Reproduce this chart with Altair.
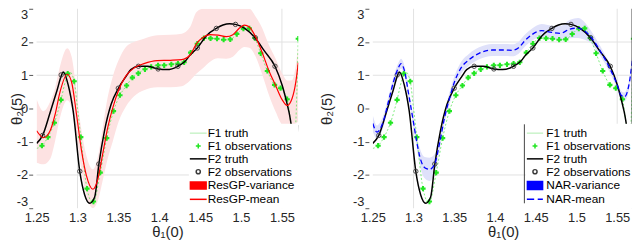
import altair as alt
import pandas as pd

FONT = "Liberation Sans"

# ---------------- data ----------------
f1_truth_x = [1.25, 1.2565, 1.2638, 1.2717, 1.2798, 1.2850, 1.2905, 1.2959, 1.3000, 1.3040, 1.3116,
              1.3190, 1.3278, 1.3357, 1.3440, 1.3519, 1.3600, 1.3671, 1.3744, 1.3825, 1.3901, 1.3985,
              1.4060, 1.4147, 1.4228, 1.4304, 1.4384, 1.4465, 1.4546, 1.4627, 1.4706, 1.4787, 1.4868,
              1.4948, 1.5029, 1.5101, 1.5169, 1.5241, 1.5322, 1.5410, 1.5483, 1.5564, 1.5652, 1.5700]
f1_truth_y = [-1.20, -1.12, -0.86, -0.43, 0.26, 0.80, 1.10, 0.82, 0.00, -0.86, -2.41,
              -2.85, -1.93, -0.89, -0.08, 0.40, 0.69, 0.93, 1.06, 1.18, 1.25, 1.30,
              1.30, 1.33, 1.35, 1.39, 1.68, 1.95, 2.12, 2.11, 2.10, 2.07, 2.08,
              2.24, 2.40, 2.41, 2.12, 1.66, 1.13, 0.71, 0.61, 0.28, -1.00, 2.10]

f1_obs_x = [1.2565, 1.2638, 1.2717, 1.2798, 1.2880, 1.2959, 1.3040, 1.3116, 1.3195, 1.3278, 1.3357,
            1.3440, 1.3519, 1.3600, 1.3671, 1.3744, 1.3825, 1.3901, 1.3985, 1.4060, 1.4147, 1.4228,
            1.4304, 1.4384, 1.4465, 1.4546, 1.4627, 1.4706, 1.4787, 1.4868, 1.4948, 1.5029, 1.5101,
            1.5169, 1.5241, 1.5322, 1.5410, 1.5483, 1.5564, 1.5652, 1.5700]
f1_obs_y = [-1.12, -0.86, -0.43, 0.26, 1.05, 0.82, -0.86, -2.41, -2.80, -1.93, -0.89,
            -0.08, 0.40, 0.69, 0.93, 1.06, 1.18, 1.25, 1.30, 1.30, 1.33, 1.35,
            1.39, 1.68, 1.95, 2.12, 2.11, 2.10, 2.07, 2.08, 2.24, 2.40, 2.41,
            2.12, 1.66, 1.13, 0.71, 0.61, 0.28, -1.00, 2.10]

f2_truth_x = [1.25, 1.2573, 1.2665, 1.2750, 1.2807, 1.2826, 1.2887, 1.2947, 1.3028, 1.3088, 1.3149,
              1.3210, 1.3261, 1.3330, 1.3410, 1.3500, 1.3592, 1.3652, 1.3744, 1.3853, 1.3986, 1.4094,
              1.4227, 1.4316, 1.4377, 1.4465, 1.4577, 1.4698, 1.4779, 1.4860, 1.4932, 1.5041, 1.5174,
              1.5283, 1.5415, 1.5504, 1.5584, 1.5664, 1.5700]
f2_truth_y = [-1.05, -0.81, -0.12, 0.55, 1.02, 1.10, 0.70, -0.08, -1.90, -2.60, -2.85,
              -2.66, -1.68, -0.67, 0.12, 0.61, 0.96, 1.17, 1.27, 1.27, 1.19, 1.17,
              1.27, 1.42, 1.61, 1.82, 2.19, 2.41, 2.51, 2.55, 2.53, 2.42, 2.12,
              1.74, 1.27, 0.69, -0.08, -1.00, -0.50]

f2_obs_x = [1.2573, 1.2800, 1.3028, 1.3261, 1.3499, 1.3744, 1.3986, 1.4227, 1.4465, 1.4698,
            1.4932, 1.5174, 1.5415, 1.5655]
f2_obs_y = [-0.81, 1.01, -1.89, -1.67, 0.61, 1.27, 1.19, 1.27, 1.82, 2.41, 2.53, 2.13, 1.27, -0.98]

resgp_x = [1.25, 1.2585, 1.2665, 1.2726, 1.2786, 1.2874, 1.2928, 1.2988, 1.3048, 1.3109, 1.3189,
           1.3249, 1.3310, 1.3370, 1.3430, 1.3502, 1.3592, 1.3692, 1.3813, 1.3974, 1.4135, 1.4275,
           1.4377, 1.4456, 1.4537, 1.4618, 1.4718, 1.4819, 1.4900, 1.4981, 1.5041, 1.5101, 1.5181,
           1.5262, 1.5342, 1.5423, 1.5504, 1.5564, 1.5624, 1.5670, 1.5700]
resgp_mean = [-0.67, -0.88, -0.67, -0.18, 0.50, 1.03, 0.79, -0.18, -1.25, -2.02, -2.43,
              -2.12, -1.34, -0.57, 0.01, 0.55, 0.98, 1.22, 1.35, 1.44, 1.45, 1.47,
              1.61, 1.95, 2.14, 2.22, 2.21, 2.16, 2.22, 2.42, 2.51, 2.45, 2.14,
              1.66, 1.13, 0.69, 0.26, 0.09, 0.30, 0.80, 1.38]
resgp_upper = [0.28, -0.08, 0.20, 0.62, 1.27, 1.81, 1.56, 0.50, -0.65, -1.42, -1.83,
               -1.45, -0.55, 0.35, 0.95, 1.45, 1.85, 2.00, 2.10, 2.20, 2.22, 2.25,
               2.45, 2.90, 3.10, 3.20, 3.10, 3.05, 3.10, 3.20, 3.20, 3.10, 2.75,
               2.40, 1.90, 1.50, 1.05, 0.84, 0.85, 1.30, 1.90]
resgp_lower = [-1.63, -1.68, -1.52, -0.98, -0.27, 0.25, 0.04, -0.85, -1.85, -2.62, -3.05,
               -2.77, -2.14, -1.50, -1.00, -0.40, 0.06, 0.37, 0.55, 0.64, 0.64, 0.67,
               0.84, 1.05, 1.22, 1.40, 1.51, 1.50, 1.56, 1.76, 1.85, 1.83, 1.55,
               1.00, 0.40, -0.10, -0.47, -0.50, -0.50, -0.45, -0.40]

nar_x = [1.25, 1.2551, 1.2631, 1.2692, 1.2752, 1.2813, 1.2846, 1.2894, 1.2935, 1.2996, 1.3036,
         1.3076, 1.3137, 1.3198, 1.3258, 1.3319, 1.3380, 1.3441, 1.3501, 1.3583, 1.3683, 1.3805,
         1.3966, 1.4129, 1.4209, 1.4290, 1.4371, 1.4452, 1.4573, 1.4694, 1.4800, 1.4921, 1.5022,
         1.5083, 1.5164, 1.5285, 1.5407, 1.5488, 1.5549, 1.5589, 1.5650, 1.5690]
nar_mean = [-0.45, -0.71, -0.37, 0.21, 0.79, 1.22, 1.35, 1.08, 0.50, -0.37, -0.96,
            -1.44, -1.78, -1.83, -1.68, -1.05, -0.28, 0.30, 0.79, 1.22, 1.47, 1.66,
            1.76, 1.76, 1.75, 1.83, 2.05, 2.22, 2.34, 2.29, 2.26, 2.39, 2.42,
            2.36, 2.19, 1.76, 1.22, 0.79, 0.40, 0.35, 0.79, 1.55]
nar_sd = [0.25, 0.20, 0.18, 0.15, 0.15, 0.15, 0.15, 0.15, 0.15, 0.18, 0.20,
          0.25, 0.32, 0.35, 0.30, 0.22, 0.18, 0.18, 0.18, 0.18, 0.18, 0.18,
          0.18, 0.18, 0.18, 0.18, 0.18, 0.18, 0.20, 0.20, 0.22, 0.28, 0.30,
          0.28, 0.20, 0.15, 0.13, 0.13, 0.13, 0.13, 0.15, 0.20]

x_ticks = [1.25, 1.3, 1.35, 1.4, 1.45, 1.5, 1.55]
y_ticks = [-3, -2, -1, 0, 1, 2, 3]
x_grid = [1.3, 1.55]
y_grid = [-2, 1, 2]

left_names = ["F1 truth", "F1 observations", "F2 truth", "F2 observations", "ResGP-variance", "ResGP-mean"]
right_names = ["F1 truth", "F1 observations", "F2 truth", "F2 observations", "NAR-variance", "NAR-mean"]

GREEN = "#22e622"
PINK = "#fde2e2"
LBLUE = "#dfe1fa"
H = 202
LEFT_PAD = 29
TOP_PAD = -2


def panel(left):
    W = 265 if left else 264
    xs = alt.Scale(domain=[1.25, 1.57], nice=False, zero=False, clamp=True)
    ys = alt.Scale(domain=[-3, 3], nice=False, zero=False, clamp=True)
    xaxis = alt.Axis(values=x_ticks, labelExpr="'' + datum.value", labelFlush=False, grid=False,
                     domain=False, ticks=False, tickSize=0, labelPadding=3, labelFont=FONT,
                     labelFontSize=13, labelColor="#262626", title="θ₁(0)", titleFont=FONT,
                     titleFontSize=15, titleFontWeight="normal", titleColor="#262626", titlePadding=1)
    yaxis = alt.Axis(values=y_ticks, labelExpr="'' + datum.value", labelFlush=True, grid=False,
                     domain=False, ticks=True, tickSize=4, tickColor="#555555", offset=4,
                     labelPadding=1, labelFont=FONT, labelFontSize=13, labelColor="#262626",
                     title="θ₂(5)", titleFont=FONT, titleFontSize=15, titleFontWeight="normal",
                     titleColor="#262626", titlePadding=(-8 if left else 18))

    def X(f):
        return alt.X(f, type="quantitative", scale=xs, axis=xaxis)

    def Y(f):
        return alt.Y(f, type="quantitative", scale=ys, axis=yaxis)

    gx = alt.Chart(pd.DataFrame({"x": x_grid})).mark_rule(color="#e2e2e2", strokeWidth=1).encode(x=X("x"))
    gy = alt.Chart(pd.DataFrame({"y": y_grid})).mark_rule(color="#e2e2e2", strokeWidth=1).encode(y=Y("y"))

    if left:
        bdf = pd.DataFrame({"x": resgp_x, "m": resgp_mean, "lo": resgp_lower, "hi": resgp_upper})
        band = alt.Chart(bdf).mark_area(color=PINK, opacity=1, interpolate="monotone", clip=True).encode(
            x=X("x"), y=Y("lo"), y2="hi")
        mean = alt.Chart(bdf).mark_line(color="#ff0000", strokeWidth=1.2, interpolate="monotone",
                                        clip=True).encode(x=X("x"), y=Y("m"))
    else:
        bdf = pd.DataFrame({"x": nar_x, "m": nar_mean, "sd": nar_sd})
        band = alt.Chart(bdf).transform_calculate(
            lo="datum.m - datum.sd", hi="datum.m + datum.sd"
        ).mark_area(color=LBLUE, opacity=1, interpolate="monotone", clip=True).encode(
            x=X("x"), y=Y("lo"), y2="hi")
        mean = alt.Chart(bdf).mark_line(color="#0000ff", strokeWidth=1.3, strokeDash=[5, 3],
                                        interpolate="monotone", clip=True).encode(x=X("x"), y=Y("m"))

    f1t = alt.Chart(pd.DataFrame({"x": f1_truth_x, "y": f1_truth_y})).mark_line(
        color="#5fe85f", strokeWidth=0.8, strokeDash=[2, 2], interpolate="monotone", clip=True
    ).encode(x=X("x"), y=Y("y"))
    f1o = alt.Chart(pd.DataFrame({"x": f1_obs_x, "y": f1_obs_y})).mark_point(
        shape="cross", filled=True, color=GREEN, size=28, opacity=1, clip=True
    ).encode(x=X("x"), y=Y("y"))
    f2t = alt.Chart(pd.DataFrame({"x": f2_truth_x, "y": f2_truth_y})).mark_line(
        color="#000000", strokeWidth=1.5, interpolate="monotone", clip=True
    ).encode(x=X("x"), y=Y("y"))
    f2o = alt.Chart(pd.DataFrame({"x": f2_obs_x, "y": f2_obs_y})).mark_point(
        shape="circle", filled=False, color="#3a3a3a", size=20, strokeWidth=0.9, opacity=1, clip=True
    ).encode(x=X("x"), y=Y("y"))

    # legend (drawn by Vega-Lite from a shape/stroke/fill scale)
    if left:
        names = left_names
        r = 1.55
        paths = [f"M-{r},0H{r}", "M-0.45,0H0.45M0,-0.45V0.45", f"M-{r},0H{r}",
                 "M0.38,0A0.38,0.38,0,1,1,-0.38,0A0.38,0.38,0,1,1,0.38,0Z",
                 "M-1.45,-0.65H1.45V0.65H-1.45Z", f"M-{r},0H{r}"]
        strokes = ["#c9f3c9", GREEN, "#000000", "#3a3a3a", "#ff0000", "#ff0000"]
        fills = ["transparent", "transparent", "transparent", "transparent", "#ff0000", "transparent"]
        lx, loff = 154.2, 3
    else:
        names = right_names
        r = 1.5
        paths = [f"M-{r},0H{r}", "M-0.45,0H0.45M0,-0.45V0.45", f"M-{r},0H{r}",
                 "M0.38,0A0.38,0.38,0,1,1,-0.38,0A0.38,0.38,0,1,1,0.38,0Z",
                 "M-1.4,-0.75H1.4V0.75H-1.4Z", "M-1.5,0H-0.15M0.5,0H1.45"]
        strokes = ["#c9f3c9", GREEN, "#000000", "#3a3a3a", "#0000ff", "#0000ff"]
        fills = ["transparent", "transparent", "transparent", "transparent", "#0000ff", "transparent"]
        lx, loff = 154.75, 5

    leg = alt.Legend(title=None, orient="none", legendX=lx, legendY=116.5, padding=3,
                     fillColor="white", labelFont=FONT, labelFontSize=12, labelColor="#000000",
                     symbolSize=121, symbolStrokeWidth=1.5, symbolOpacity=1, rowPadding=0,
                     labelOffset=loff, offset=0)
    legend_layer = alt.Chart(pd.DataFrame({"series": names})).transform_filter("false").mark_point(
        opacity=1, filled=True
    ).encode(
        shape=alt.Shape("series:N", scale=alt.Scale(domain=names, range=paths), legend=leg),
        stroke=alt.Stroke("series:N", scale=alt.Scale(domain=names, range=strokes), legend=leg),
        fill=alt.Fill("series:N", scale=alt.Scale(domain=names, range=fills), legend=leg),
    )

    layers = [gx, gy, band, f1t, f1o, f2t, f2o, mean, legend_layer]
    if not left:
        one = pd.DataFrame({"k": [0]})
        edge = alt.Chart(one).mark_rule(color="#444444", strokeWidth=1).encode(
            x=alt.value(262.5), y=alt.value(0), y2=alt.value(H))
        lborder = alt.Chart(one).mark_rule(color="#444444", strokeWidth=1).encode(
            x=alt.value(153.5), y=alt.value(117), y2=alt.value(197))
        layers += [edge, lborder]
    return alt.layer(*layers).properties(width=W, height=H)


chart = alt.hconcat(panel(True), panel(False), spacing=20.5).resolve_scale(
    shape="independent", stroke="independent", fill="independent"
).resolve_legend(
    shape="independent", stroke="independent", fill="independent"
).properties(
    autosize=alt.AutoSizeParams(type="none"),
    padding={"left": LEFT_PAD, "top": TOP_PAD, "right": 632 - LEFT_PAD, "bottom": 233 - TOP_PAD},
    background="white",
).configure_view(stroke=None)

chart.save("out.html", embed_options={"renderer": "svg", "actions": False})
